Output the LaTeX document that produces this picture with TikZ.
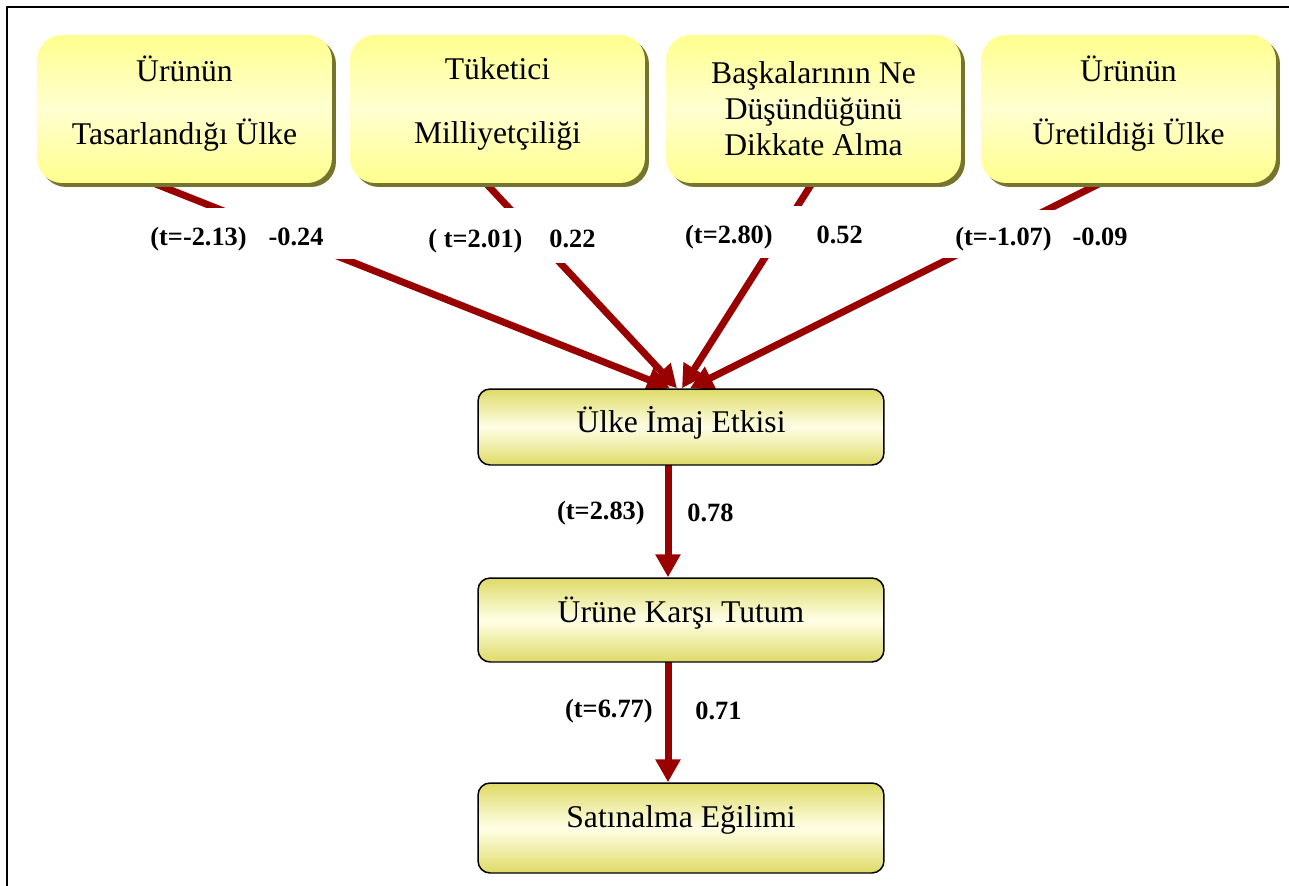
\documentclass[tikz,border=0pt]{standalone}
\usepackage{fontspec}
\setmainfont{Liberation Serif}
\usetikzlibrary{shadows,arrows.meta,positioning}
\definecolor{koyukirmizi}{HTML}{990000}
\definecolor{sari}{HTML}{FFFF8E}
\definecolor{acik}{HTML}{FFFFD0}
\definecolor{golge}{HTML}{74742F}
\definecolor{zeytin}{HTML}{DEDA68}
\definecolor{krem}{HTML}{FFFFE6}
\pgfdeclarelayer{arka}
\pgfsetlayers{arka,main}
\newcommand{\altbosluk}{\rule[-0.34cm]{0pt}{0.1pt}}
\begin{document}
\begin{tikzpicture}[x=0.02cm, y=-0.02cm, line join=round,
	kutu/.style={rounded corners=0.5cm, minimum width=5.9cm, minimum height=2.96cm, align=center, top color=sari, bottom color=sari, middle color=acik, drop shadow={shadow xshift=0.08cm, shadow yshift=-0.08cm, fill=golge, opacity=1}, font=\fontsize{18}{36}\selectfont},
	anakutu/.style={draw=black, line width=0.85pt, rounded corners=0.24cm, minimum width=8.12cm, top color=zeytin, bottom color=zeytin, middle color=krem, font=\fontsize{18}{22}\selectfont},
	ok/.style={draw=koyukirmizi, line width=0.14cm, shorten <=-0.3cm, -{Triangle[length=0.46cm, width=0.48cm, fill=koyukirmizi]}},
	etiket/.style={fill=white, font=\fontsize{15}{18}\selectfont\bfseries, inner xsep=0.3cm, inner ysep=0pt, text height=0.58cm},
	deger/.style={font=\fontsize{15}{18}\selectfont\bfseries, inner sep=0pt}]
	\useasboundingbox (0,0) rectangle (1289,886);
	\draw[line width=1.1pt] (7,886) -- (7,7) -- (1289,7);
	\node[kutu] (tasarim) at (184.5,109) {Ürünün\\Tasarlandığı Ülke\altbosluk};
	\node[kutu] (milli) at (497.5,109) {Tüketici\\Milliyetçiliği\altbosluk};
	\node[kutu, font=\fontsize{18}{20.5}\selectfont] (baskalari) at (813.5,109) {Başkalarının Ne\\Düşündüğünü\\Dikkate Alma};
	\node[kutu] (uretim) at (1128.5,109) {Ürünün\\Üretildiği Ülke\altbosluk};
	\node[anakutu, minimum height=1.52cm, text depth=0.32cm] (imaj) at (681,427) {Ülke İmaj Etkisi};
	\node[anakutu, minimum height=1.68cm, text depth=0.43cm] (tutum) at (681,620) {Ürüne Karşı Tutum};
	\node[anakutu, minimum height=1.8cm, text depth=0.47cm] (satin) at (681,828) {Satınalma Eğilimi};
	\begin{pgfonlayer}{arka}
		\draw[ok] ([xshift=-0.61cm]tasarim.south) -- ([xshift=-0.22cm]imaj.north);
		\draw[ok] ([xshift=-0.23cm]milli.south) -- ([xshift=-0.08cm]imaj.north);
		\draw[ok] ([xshift=-0.03cm]baskalari.south) -- ([xshift=0.02cm]imaj.north);
		\draw[ok] ([xshift=-0.57cm]uretim.south) -- ([xshift=0.18cm]imaj.north);
		\draw[ok] ([xshift=-0.26cm]imaj.south) -- ([xshift=-0.26cm]tutum.north);
		\draw[ok] ([xshift=-0.26cm]tutum.south) -- ([xshift=-0.26cm]satin.north);
	\end{pgfonlayer}
	\node[etiket, minimum width=4.8cm, minimum height=1.02cm] (t1) at (237,233.5) {(t=-2.13)\hspace{0.44cm}-0.24};
	\node[etiket, minimum height=1.1cm] (t2) at (512,235.5) {( t=2.01)\hspace{0.54cm}0.22};
	\node[etiket, minimum height=1.04cm] (t3) at (774,232) {(t=2.80)\hspace{0.88cm}0.52};
	\node[etiket, minimum height=0.96cm] (t4) at (1041.5,234) {(t=-1.07)\hspace{0.42cm}-0.09};
	\node[deger, anchor=east] (t5) at (645,513) {(t=2.83)};
	\node[deger, anchor=west] (d5) at (687,513) {0.78};
	\node[deger, anchor=east] (t6) at (653,711) {(t=6.77)};
	\node[deger, anchor=west] (d6) at (695,711) {0.71};
\end{tikzpicture}
\end{document}
